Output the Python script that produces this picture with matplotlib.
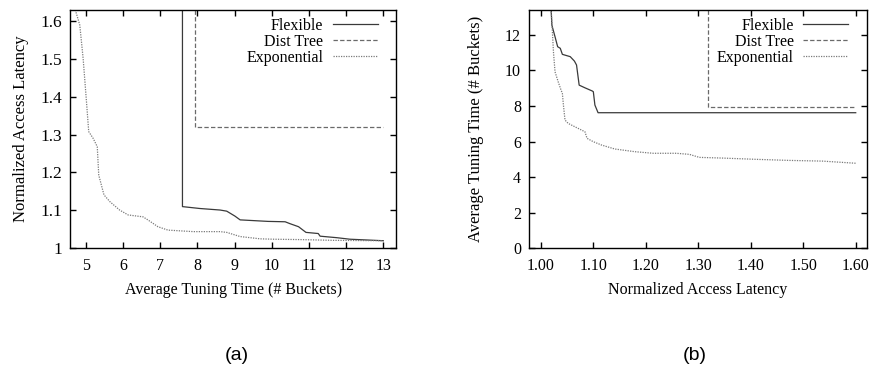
import matplotlib
matplotlib.use("Agg")
import matplotlib.pyplot as plt

plt.rcParams["font.family"] = ["Liberation Serif", "DejaVu Serif"]
plt.rcParams["font.size"] = 11.5

# (a) latency vs tuning time
a_flex_x = [7.6, 7.6, 8.07, 8.61, 8.79, 9.01, 9.15, 9.9, 10.36, 10.49, 10.72, 10.92, 11.25, 11.30, 11.75, 12.1, 13.0]
a_flex_y = [1.63, 1.110, 1.105, 1.101, 1.098, 1.085, 1.075, 1.071, 1.070, 1.065, 1.057, 1.042, 1.039, 1.032, 1.028, 1.024, 1.020]
a_tree_x = [7.95, 7.95, 13.0]
a_tree_y = [1.63, 1.32, 1.32]
a_exp_x = [4.72, 4.84, 4.93, 5.02, 5.08, 5.20, 5.31, 5.35, 5.49, 5.65, 5.91, 6.14, 6.54, 6.67, 6.94, 7.21,
           7.89, 8.61, 8.79, 9.15, 9.69, 10.04, 10.76, 11.66, 13.0]
a_exp_y = [1.629, 1.589, 1.501, 1.387, 1.308, 1.290, 1.268, 1.193, 1.141, 1.123, 1.101, 1.088, 1.083, 1.075, 1.057, 1.048,
           1.044, 1.044, 1.042, 1.031, 1.025, 1.024, 1.023, 1.021, 1.020]
a_xticks = [5, 6, 7, 8, 9, 10, 11, 12, 13]
a_yticks = [1.0, 1.1, 1.2, 1.3, 1.4, 1.5, 1.6]
a_ylabels = ["1", "1.1", "1.2", "1.3", "1.4", "1.5", "1.6"]

# (b) tuning time vs latency
b_flex_x = [1.0196, 1.021, 1.027, 1.032, 1.037, 1.041, 1.056, 1.064, 1.068, 1.073, 1.084, 1.098, 1.100, 1.103, 1.109, 1.60]
b_flex_y = [13.42, 12.54, 11.89, 11.33, 11.24, 10.90, 10.77, 10.52, 10.30, 9.17, 9.02, 8.84, 8.80, 8.05, 7.62, 7.62]
b_tree_x = [1.318, 1.318, 1.60]
b_tree_y = [13.42, 7.96, 7.96]
b_exp_x = [1.0196, 1.022, 1.024, 1.027, 1.033, 1.0385, 1.041, 1.043, 1.046, 1.052, 1.071, 1.084, 1.088, 1.10, 1.116,
           1.141, 1.179, 1.214, 1.258, 1.283, 1.302, 1.347, 1.41, 1.473, 1.537, 1.60]
b_exp_y = [13.42, 12.17, 11.04, 9.92, 9.36, 8.89, 8.71, 8.05, 7.21, 7.02, 6.74, 6.55, 6.18, 5.99, 5.80,
           5.58, 5.43, 5.34, 5.34, 5.28, 5.11, 5.07, 5.0, 4.94, 4.90, 4.78]
b_xticks = [1.0, 1.1, 1.2, 1.3, 1.4, 1.5, 1.6]
b_xlabels = ["1.00", "1.10", "1.20", "1.30", "1.40", "1.50", "1.60"]
b_yticks = [0, 2, 4, 6, 8, 10, 12]

names = ["Flexible", "Dist Tree", "Exponential"]

fig = plt.figure(figsize=(8.69, 3.70), dpi=100)
ax1 = fig.add_axes([0.0811, 0.3289, 0.3746, 0.6454])
ax2 = fig.add_axes([0.6091, 0.3289, 0.3883, 0.6454])


def style(ax):
    for s in ax.spines.values():
        s.set_linewidth(1.0)
    ax.tick_params(direction="in", top=True, right=True, length=4, width=1.0, labelsize=11.5)
    ax.tick_params(axis="x", pad=7)
    ax.tick_params(axis="y", pad=6)


def draw(ax, fx, fy, tx, ty, ex, ey):
    ax.plot(fx, fy, color="#3a3a3a", lw=0.9, label=names[0])
    ax.plot(tx, ty, color="#6a6a6a", lw=0.9, linestyle=(0, (3.5, 1.8)), label=names[1])
    ax.plot(ex, ey, color="#7a7a7a", lw=0.9, linestyle=(0, (1, 1)), label=names[2])
    ax.legend(loc="upper right", bbox_to_anchor=(0.968, 0.998), frameon=False, markerfirst=False,
              handlelength=2.8, handletextpad=0.6, labelspacing=0.0, borderpad=0, fontsize=11.5)


draw(ax1, a_flex_x, a_flex_y, a_tree_x, a_tree_y, a_exp_x, a_exp_y)
ax1.set_xlim(4.59, 13.34)
ax1.set_ylim(1.0, 1.63)
ax1.set_xticks(a_xticks)
ax1.set_yticks(a_yticks)
ax1.set_yticklabels(a_ylabels)
ax1.set_xlabel("Average Tuning Time (# Buckets)", labelpad=6)
ax1.set_ylabel("Normalized Access Latency", labelpad=8, fontsize=12)
style(ax1)
ax1.tick_params(axis="y", labelsize=12.5)

draw(ax2, b_flex_x, b_flex_y, b_tree_x, b_tree_y, b_exp_x, b_exp_y)
ax2.set_xlim(0.978, 1.621)
ax2.set_ylim(0, 13.42)
ax2.set_xticks(b_xticks)
ax2.set_xticklabels(b_xlabels)
ax2.set_yticks(b_yticks)
ax2.set_xlabel("Normalized Access Latency", labelpad=6)
ax2.set_ylabel("Average Tuning Time (# Buckets)", labelpad=15, fontsize=12)
style(ax2)

fig.text(0.273, 0.04, "(a)", family="Liberation Sans", fontsize=14, ha="center", va="center")
fig.text(0.8, 0.04, "(b)", family="Liberation Sans", fontsize=14, ha="center", va="center")

fig.savefig("out.png", dpi=100)
